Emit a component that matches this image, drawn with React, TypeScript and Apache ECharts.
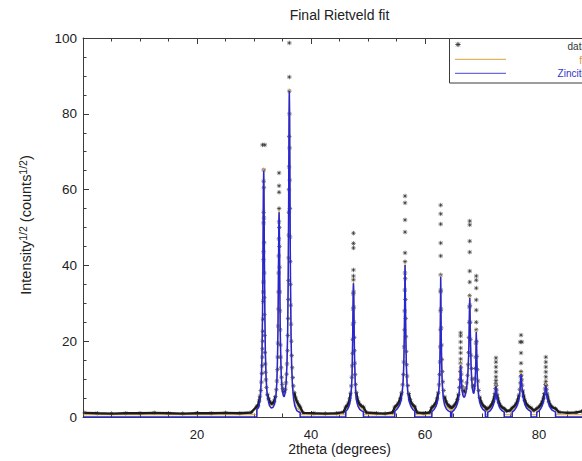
import { useEffect, useRef } from 'react';
import * as echarts from 'echarts';

const chartTitle = 'Final Rietveld fit';
const xAxisTitle = '2theta (degrees)';
const legendLabels = ['data', 'fit', 'Zincite'];
const backgroundLevel = 0.6;
const denseThreshold = 7;
const xDataMax = 90;

// Zincite calculated profile (2theta, sqrt intensity)
const zinciteProfile: [number, number][] = [
  [0.1, 0],
  [30.5, 0], [30.5, 2.0], [30.8, 2.5], [31.0, 4.0], [31.15, 6.2], [31.3, 10.4], [31.4, 16.3], [31.5, 27.3], [31.55, 36.4], [31.6, 48.1], [31.65, 59.8], [31.7, 65], [31.75, 59.8], [31.8, 48.1], [31.85, 36.4], [31.9, 27.3], [32.0, 16.8], [32.1, 11], [32.25, 6.9], [32.45, 4.8], [32.7, 3.0], [33.0, 2.4], [33.3, 2.5], [33.6, 3.3], [33.85, 5.5], [34.0, 8.9], [34.1, 13.5], [34.2, 22.7], [34.25, 30.2], [34.3, 40], [34.35, 49.7], [34.4, 54], [34.45, 50], [34.5, 40.5], [34.55, 30.8], [34.6, 23.5], [34.7, 15], [34.8, 10.3], [34.95, 7], [35.15, 5.6], [35.3, 5.3], [35.45, 6.3], [35.65, 9.3], [35.8, 14.6], [35.9, 22], [36.0, 36], [36.05, 48], [36.1, 63.6], [36.15, 79], [36.2, 86], [36.25, 79], [36.3, 63.6], [36.35, 48], [36.4, 36], [36.5, 21.5], [36.6, 13.8], [36.75, 8.2], [36.95, 4.7], [37.15, 3.0], [37.5, 1.7], [37.9, 1.3], [38.1, 1.2], [38.1, 0],
  [46.1, 0], [46.1, 1.5], [46.4, 2.0], [46.65, 2.8], [46.85, 4.0], [47.0, 5.8], [47.1, 7.6], [47.2, 11], [47.25, 14.8], [47.3, 19.8], [47.35, 26.1], [47.4, 32.5], [47.45, 35.3], [47.5, 32.5], [47.55, 26.1], [47.6, 19.8], [47.65, 14.8], [47.75, 9.5], [47.85, 6.5], [48.0, 4.2], [48.25, 2.8], [48.55, 2.0], [48.9, 1.6], [49.2, 1.4], [49.2, 0],
  [54.7, 0], [54.7, 1.5], [55.1, 2.1], [55.5, 3.0], [55.8, 4.3], [56.0, 6.4], [56.15, 9.0], [56.25, 12.5], [56.32, 17], [56.38, 22.5], [56.43, 29.5], [56.47, 36.5], [56.5, 40.1], [56.53, 37], [56.57, 30], [56.62, 23], [56.68, 17.5], [56.75, 12.8], [56.85, 9.0], [57.0, 6.2], [57.2, 4.2], [57.5, 2.9], [57.85, 2.0], [58.2, 1.5], [58.2, 0],
  [61.2, 0], [61.2, 1.4], [61.6, 2.0], [61.95, 2.9], [62.2, 4.2], [62.38, 6.2], [62.5, 8.8], [62.58, 12.2], [62.66, 19], [62.7, 26], [62.73, 32.5], [62.75, 37], [62.78, 32.5], [62.82, 25.5], [62.87, 19], [62.93, 14], [63.0, 10], [63.1, 7], [63.25, 4.6], [63.45, 3.1], [63.75, 2.1], [64.1, 1.6], [64.5, 1.3], [64.5, 0],
  [64.7, 0], [64.7, 1.3], [65.1, 1.8], [65.45, 2.6], [65.7, 3.6], [65.9, 5.0], [66.03, 6.8], [66.12, 8.8], [66.18, 11], [66.22, 12.8], [66.25, 13.7], [66.29, 12.6], [66.34, 10.8], [66.42, 8.6], [66.52, 6.9], [66.65, 5.7], [66.8, 5.2], [66.95, 5.3], [67.1, 6.0], [67.3, 7.6], [67.45, 9.8], [67.57, 12.8], [67.65, 16], [67.72, 20.5], [67.77, 25], [67.81, 29], [67.85, 31.4], [67.89, 29], [67.94, 24], [68.0, 18.5], [68.08, 13.8], [68.18, 10.2], [68.3, 7.8], [68.45, 6.4], [68.58, 6.2], [68.7, 7.4], [68.8, 9.4], [68.87, 12], [68.92, 15], [68.96, 19], [69.0, 22.4], [69.04, 19.5], [69.09, 15.5], [69.16, 11.5], [69.25, 8.5], [69.38, 6.0], [69.55, 4.2], [69.8, 2.9], [70.15, 2.0], [70.6, 1.5], [70.6, 0],
  [71.0, 0], [71.0, 1.2], [71.4, 1.6], [71.75, 2.3], [71.98, 3.1], [72.15, 4.0], [72.27, 5.2], [72.35, 6.5], [72.41, 7.7], [72.45, 8.2], [72.5, 7.6], [72.57, 6.3], [72.66, 5.0], [72.78, 3.9], [72.95, 3.0], [73.2, 2.2], [73.55, 1.6], [73.9, 1.3], [73.9, 0],
  [75.3, 0], [75.3, 1.3], [75.7, 1.8], [76.05, 2.6], [76.3, 3.6], [76.5, 4.9], [76.63, 6.4], [76.72, 8.0], [76.78, 9.6], [76.82, 10.7], [76.85, 11.3], [76.89, 10.6], [76.95, 9.2], [77.03, 7.6], [77.14, 6.0], [77.3, 4.5], [77.5, 3.4], [77.8, 2.4], [78.2, 1.8], [78.6, 1.4], [78.6, 0],
  [79.6, 0], [79.6, 1.2], [80.0, 1.6], [80.35, 2.3], [80.6, 3.1], [80.8, 4.1], [80.95, 5.3], [81.05, 6.6], [81.12, 7.6], [81.17, 8.2], [81.2, 8.4], [81.25, 7.9], [81.32, 6.9], [81.42, 5.6], [81.55, 4.4], [81.72, 3.4], [81.95, 2.5], [82.3, 1.8], [82.9, 1.3], [82.9, 0],
  [90, 0],
];

// Observed data points (stars)
const observed: [number, number][] = [
  [0.3, 1.1], [2.5, 1.0], [5, 0.9], [7.5, 1.0], [10, 1.0], [12.5, 1.1], [15, 1.0], [17.5, 0.9], [20, 1.0], [22.5, 1.0], [25, 1.1], [27.5, 1.0], [29.5, 1.2],
  [30.5, 2.8], [30.7, 3.0], [30.9, 4.2], [31.05, 5.5], [31.2, 7.0], [31.3, 9.2], [31.38, 11.5], [31.43, 13.5], [31.47, 15.8], [31.5, 18.0], [31.53, 20.0], [31.56, 22.6], [31.59, 25.8], [31.61, 30.5], [31.63, 33.0], [31.65, 35.6], [31.66, 41.5], [31.67, 43.6], [31.68, 51.2], [31.69, 54.0], [31.7, 62.2], [31.71, 65.2], [31.5, 71.8], [31.9, 71.8], [31.73, 60.5], [31.75, 52.5], [31.77, 46.0], [31.79, 38.0], [31.81, 31.5], [31.84, 27.0], [31.87, 21.5], [31.91, 17.0], [31.96, 14.0], [32.02, 11.8], [32.1, 9.8], [32.2, 7.8], [32.35, 6.0], [32.55, 4.8], [32.8, 3.9], [33.05, 3.5], [33.3, 3.6], [33.55, 4.2], [33.75, 5.4], [33.92, 7.2], [34.02, 9.5], [34.1, 12.5], [34.16, 15.8], [34.21, 19.5], [34.25, 24.0], [34.28, 28.5], [34.31, 33.0], [34.33, 38.0], [34.35, 42.5], [34.37, 47.0], [34.39, 51.5], [34.4, 55.0], [34.4, 64.4], [34.4, 61.0], [34.4, 59.3], [34.43, 50.0], [34.46, 45.0], [34.49, 39.5], [34.52, 33.0], [34.55, 28.0], [34.59, 23.0], [34.63, 19.0], [34.68, 15.8], [34.75, 13.0], [34.83, 10.5], [34.93, 8.6], [35.05, 7.5], [35.2, 6.8], [35.35, 6.6], [35.5, 7.3], [35.62, 9.0], [35.72, 11.3], [35.8, 14.0], [35.87, 17.5], [35.93, 21.5], [35.98, 26.0], [36.02, 31.0], [36.05, 36.0], [36.08, 42.0], [36.1, 48.0], [36.12, 54.0], [36.14, 60.0], [36.16, 66.0], [36.18, 74.0], [36.2, 86.0], [36.2, 89.7], [36.2, 98.7], [36.22, 80.0], [36.24, 71.0], [36.27, 62.5], [36.3, 55.0], [36.33, 47.5], [36.36, 41.0], [36.4, 35.0], [36.44, 29.5], [36.49, 24.5], [36.55, 20.0], [36.62, 16.2], [36.7, 13.0], [36.8, 10.4], [36.92, 8.2], [37.08, 6.4], [37.3, 5.0], [37.55, 4.0], [37.85, 3.2], [38.1, 2.6],
  [38.6, 1.1], [40.5, 1.0], [42.5, 0.9], [44.5, 1.0], [45.7, 1.3],
  [46.1, 2.6], [46.35, 3.0], [46.6, 3.7], [46.8, 4.8], [46.95, 6.3], [47.07, 8.2], [47.16, 10.5], [47.23, 13.5], [47.28, 16.8], [47.32, 20.5], [47.36, 24.5], [47.39, 28.5], [47.42, 32.5], [47.45, 36.2], [47.45, 37.2], [47.45, 38.8], [47.45, 44.6], [47.45, 45.8], [47.45, 48.5], [47.48, 33.0], [47.51, 29.0], [47.54, 25.0], [47.58, 21.0], [47.62, 17.5], [47.67, 14.2], [47.74, 11.2], [47.83, 8.6], [47.95, 6.5], [48.1, 5.0], [48.3, 4.0], [48.55, 3.3], [48.85, 2.9], [49.2, 2.6],
  [49.7, 1.2], [51.5, 1.0], [53, 0.9], [54.3, 1.2],
  [54.7, 2.6], [55.0, 3.0], [55.35, 3.7], [55.65, 4.8], [55.9, 6.4], [56.07, 8.5], [56.2, 11.2], [56.28, 14.5], [56.35, 18.5], [56.4, 23.0], [56.44, 28.0], [56.47, 33.5], [56.49, 38.0], [56.5, 41.0], [56.5, 43.3], [56.5, 48.8], [56.5, 52.0], [56.5, 56.5], [56.5, 58.3], [56.53, 36.5], [56.56, 31.0], [56.6, 26.0], [56.65, 21.2], [56.7, 17.3], [56.77, 13.8], [56.86, 10.8], [56.98, 8.3], [57.15, 6.2], [57.38, 4.6], [57.65, 3.6], [57.95, 3.0], [58.2, 2.7],
  [58.6, 1.2], [59.8, 1.0], [60.8, 1.2],
  [61.2, 2.5], [61.5, 2.9], [61.85, 3.6], [62.12, 4.8], [62.32, 6.4], [62.46, 8.5], [62.56, 11.2], [62.63, 14.5], [62.68, 18.5], [62.71, 23.0], [62.73, 28.0], [62.74, 33.0], [62.75, 37.5], [62.75, 42.5], [62.75, 45.9], [62.75, 50.9], [62.75, 53.6], [62.75, 55.9], [62.78, 33.5], [62.81, 28.5], [62.85, 23.5], [62.9, 19.0], [62.96, 15.2], [63.04, 12.0], [63.14, 9.3], [63.28, 7.0], [63.45, 5.3], [63.7, 4.0], [64.0, 3.2], [64.3, 2.8], [64.5, 2.6],
  [64.7, 2.4], [65.05, 2.9], [65.4, 3.6], [65.68, 4.6], [65.88, 6.0], [66.02, 7.8], [66.12, 9.9], [66.19, 12.0], [66.23, 14.2], [66.25, 15.3], [66.25, 16.9], [66.25, 18.2], [66.25, 19.8], [66.25, 21.4], [66.25, 22.2], [66.3, 13.0], [66.36, 11.3], [66.44, 9.5], [66.55, 8.0], [66.7, 7.0], [66.85, 6.6], [67.0, 6.8], [67.15, 7.6], [67.32, 9.0], [67.46, 11.0], [67.57, 13.8], [67.65, 17.0], [67.71, 21.0], [67.76, 25.0], [67.8, 29.0], [67.83, 32.0], [67.85, 35.6], [67.85, 38.5], [67.85, 43.5], [67.85, 46.4], [67.85, 50.7], [67.85, 51.7], [67.89, 29.5], [67.93, 25.0], [67.98, 20.5], [68.05, 16.3], [68.14, 12.8], [68.26, 10.0], [68.4, 8.2], [68.53, 7.6], [68.65, 8.4], [68.75, 10.2], [68.83, 12.8], [68.9, 15.8], [68.95, 19.5], [68.99, 23.0], [69.0, 25.0], [69.0, 28.2], [69.0, 30.9], [69.0, 34.0], [69.0, 36.1], [69.0, 37.2], [69.04, 20.0], [69.1, 16.0], [69.18, 12.5], [69.28, 9.5], [69.42, 7.0], [69.6, 5.2], [69.85, 3.9], [70.2, 3.0], [70.6, 2.5],
  [70.8, 2.0],
  [71.0, 2.2], [71.35, 2.6], [71.7, 3.3], [71.95, 4.1], [72.13, 5.0], [72.26, 6.2], [72.35, 7.5], [72.42, 8.8], [72.45, 9.6], [72.45, 10.6], [72.45, 11.9], [72.45, 13.2], [72.45, 14.5], [72.45, 15.6], [72.5, 8.3], [72.57, 7.1], [72.66, 5.9], [72.78, 4.8], [72.95, 3.9], [73.2, 3.1], [73.55, 2.5], [73.9, 2.2],
  [74.3, 1.6], [74.9, 1.7],
  [75.3, 2.4], [75.65, 2.8], [76.0, 3.5], [76.28, 4.5], [76.48, 5.8], [76.62, 7.3], [76.72, 9.0], [76.79, 10.6], [76.85, 12.0], [76.85, 14.2], [76.85, 16.9], [76.7, 19.8], [77.0, 19.8], [76.85, 21.6], [76.9, 11.0], [76.96, 9.8], [77.04, 8.4], [77.15, 6.9], [77.3, 5.5], [77.5, 4.4], [77.8, 3.4], [78.2, 2.8], [78.6, 2.4],
  [79.1, 1.7],
  [79.6, 2.2], [79.95, 2.6], [80.3, 3.2], [80.57, 4.0], [80.78, 5.0], [80.94, 6.2], [81.05, 7.4], [81.13, 8.6], [81.2, 9.4], [81.2, 10.6], [81.2, 11.9], [81.2, 13.2], [81.2, 14.5], [81.2, 15.8], [81.26, 8.3], [81.33, 7.3], [81.43, 6.1], [81.56, 5.0], [81.73, 4.0], [81.96, 3.2], [82.3, 2.6], [82.9, 2.2],
  [83.5, 1.3], [85, 1.1], [86.5, 1.2], [87.5, 1.5], [88.5, 2.4], [89.2, 4.5], [89.6, 9.5], [90, 6.0],
];

const FONT = 'Liberation Sans, Arial, Helvetica, sans-serif';
const AXIS_COLOR = '#3c3c3c';
const TEXT_COLOR = '#222222';
const BLUE = '#2626d4';
const ORANGE = '#d8a547';
const STAR_COLOR = '#2a2a2a';
const STAR_PATH = 'path://M0,-5L0,5M-5,0L5,0M-3.5,-3.5L3.5,3.5M-3.5,3.5L3.5,-3.5';

let shapesRegistered = false;
function registerShapes() {
  if (shapesRegistered) return;
  echarts.graphic.registerShape(
    'asterisk',
    echarts.graphic.extendPath('M0,-2.6L0,2.6M-2.6,0L2.6,0M-1.85,-1.85L1.85,1.85M-1.85,1.85L1.85,-1.85', {})
  );
  shapesRegistered = true;
}

function buildOption() {
  const fitProfile = zinciteProfile.map(([x, y]) => [x, y + backgroundLevel]);
  const sorted = [...observed].sort((a, b) => a[0] - b[0]);
  const denseData = sorted.map(([x, y]) => (y < denseThreshold ? [x, y] : [x, '-']));

  const axisCommon = {
    type: 'value' as const,
    min: 0,
    max: 100,
    interval: 20,
    axisLine: { show: true, onZero: false, lineStyle: { color: AXIS_COLOR, width: 1 } },
    axisTick: { show: true, inside: true, length: 6, lineStyle: { color: AXIS_COLOR, width: 1 } },
    minorTick: { show: true, splitNumber: 4, length: 3.5, lineStyle: { color: AXIS_COLOR, width: 1 } },
    splitLine: { show: false },
    minorSplitLine: { show: false },
  };

  return {
    animation: false,
    backgroundColor: '#ffffff',
    grid: { left: 83, top: 38, width: 570, height: 379, containLabel: false, outerBoundsMode: 'none' },
    xAxis: [
      {
        ...axisCommon,
        position: 'bottom',
        axisLabel: {
          margin: 11,
          fontSize: 13,
          fontFamily: FONT,
          color: TEXT_COLOR,
          formatter: (v: number) => (v === 0 || v > xDataMax ? '' : String(v)),
        },
      },
      {
        ...axisCommon,
        position: 'top',
        axisLabel: { show: false },
      },
    ],
    yAxis: {
      ...axisCommon,
      position: 'left',
      axisLabel: { margin: 6, fontSize: 13.5, fontFamily: FONT, color: TEXT_COLOR },
    },
    series: [
      {
        name: legendLabels[1],
        type: 'line',
        data: fitProfile,
        showSymbol: false,
        symbol: 'none',
        lineStyle: { color: ORANGE, width: 1.2 },
      },
      {
        name: 'dense data',
        type: 'line',
        data: denseData,
        showSymbol: false,
        symbol: 'none',
        connectNulls: false,
        lineStyle: { color: '#1c1c1c', width: 2.4 },
      },
      {
        name: legendLabels[2],
        type: 'line',
        data: zinciteProfile,
        showSymbol: false,
        symbol: 'none',
        lineStyle: { color: BLUE, width: 1.5 },
      },
      {
        name: legendLabels[0],
        type: 'scatter',
        data: observed,
        symbol: STAR_PATH,
        symbolSize: 4.5,
        itemStyle: { color: 'rgba(0,0,0,0)', borderColor: STAR_COLOR, borderWidth: 0.8 },
      },
    ],
    graphic: [
      {
        type: 'text',
        x: 339.5,
        y: 15,
        style: { text: chartTitle, fontSize: 14, fontFamily: FONT, fill: TEXT_COLOR, align: 'center', verticalAlign: 'middle' },
      },
      {
        type: 'text',
        x: 339.5,
        y: 449,
        style: { text: xAxisTitle, fontSize: 14, fontFamily: FONT, fill: TEXT_COLOR, align: 'center', verticalAlign: 'middle' },
      },
      {
        type: 'text',
        x: 25.5,
        y: 225,
        rotation: Math.PI / 2,
        style: {
          text: '{m|Intensity}{s|1/2}{m| (counts}{s|1/2}{m|)}',
          fontFamily: FONT,
          fill: TEXT_COLOR,
          align: 'center',
          verticalAlign: 'middle',
          rich: {
            m: { fontSize: 14.5, fontFamily: FONT, fill: TEXT_COLOR, lineHeight: 16, padding: [8, 0, 0, 0], verticalAlign: 'bottom' },
            s: { fontSize: 10.5, fontFamily: FONT, fill: TEXT_COLOR, lineHeight: 10, verticalAlign: 'top' },
          },
        },
      },
      {
        type: 'rect',
        z: 100,
        shape: { x: 449.5, y: 38.5, width: 146, height: 44.5 },
        style: { fill: '#ffffff', stroke: '#3a3a3a', lineWidth: 1 },
      },
      {
        type: 'asterisk',
        z: 101,
        x: 458,
        y: 44.5,
        style: { fill: 'none', stroke: '#333333', lineWidth: 0.9 },
      },
      {
        type: 'rect',
        z: 101,
        shape: { x: 455, y: 58.8, width: 51, height: 1.3 },
        style: { fill: '#e0b665', stroke: 'none' },
      },
      {
        type: 'rect',
        z: 101,
        shape: { x: 455, y: 72.8, width: 51, height: 1.3 },
        style: { fill: '#6a6ae2', stroke: 'none' },
      },
      {
        type: 'text',
        z: 101,
        x: 587,
        y: 46,
        style: { text: legendLabels[0], fontSize: 10, fontFamily: FONT, fill: '#333333', align: 'right', verticalAlign: 'middle' },
      },
      {
        type: 'text',
        z: 101,
        x: 587,
        y: 60,
        style: { text: legendLabels[1], fontSize: 10, fontFamily: FONT, fill: '#d49a30', align: 'right', verticalAlign: 'middle' },
      },
      {
        type: 'text',
        z: 101,
        x: 587,
        y: 73.5,
        style: { text: legendLabels[2], fontSize: 10, fontFamily: FONT, fill: '#3333cc', align: 'right', verticalAlign: 'middle' },
      },
    ],
  };
}

export default function App() {
  const ref = useRef<HTMLDivElement>(null);
  useEffect(() => {
    if (!ref.current) return;
    registerShapes();
    const chart = echarts.init(ref.current, undefined, { renderer: 'svg' });
    chart.setOption(buildOption() as any);
    return () => {
      chart.dispose();
    };
  }, []);
  return (
    <div
      ref={ref}
      style={{ position: 'fixed', left: 0, top: 0, width: 582, height: 461, overflow: 'hidden', background: '#ffffff' }}
    />
  );
}
